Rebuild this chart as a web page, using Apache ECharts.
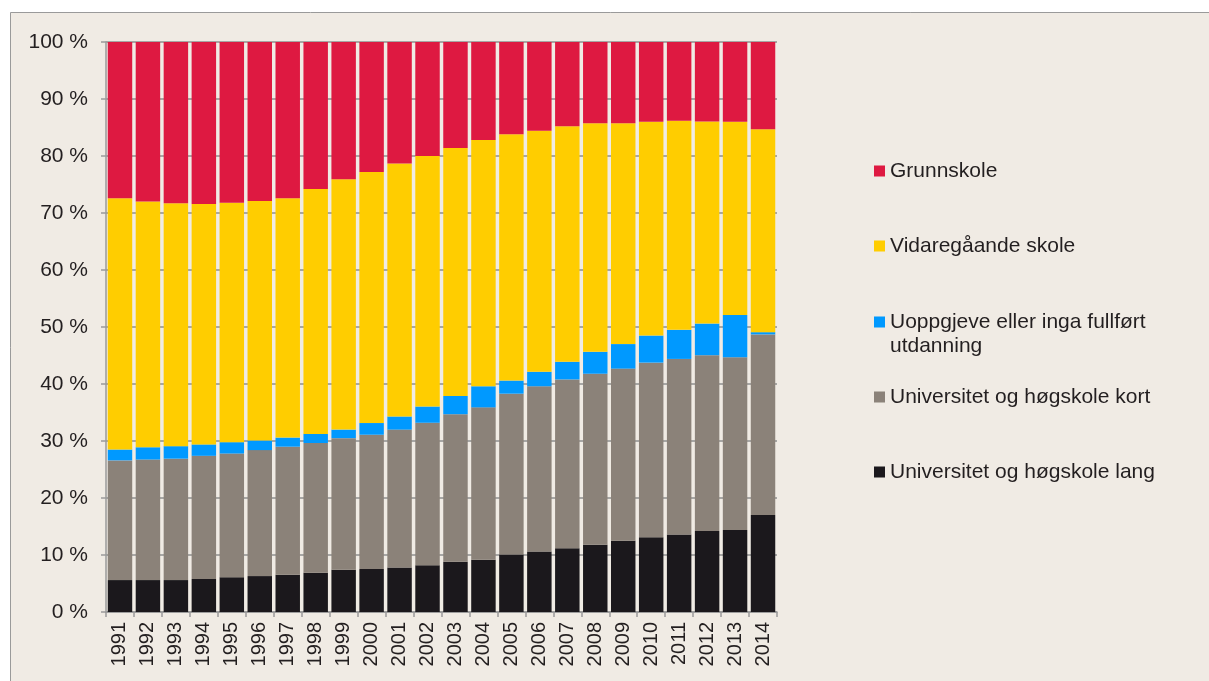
<!DOCTYPE html>
<html>
<head>
<meta charset="utf-8">
<script src="https://cdn.jsdelivr.net/npm/echarts@6/dist/echarts.min.js"></script>
<style>
    html, body { margin: 0; padding: 0; background: #ffffff; }
    #chart { width: 1209px; height: 681px; }
</style>
</head>
<body>
<div id="chart"></div>
<script>
    // data (percent of population)
    var years = ['1991','1992','1993','1994','1995','1996','1997','1998','1999','2000','2001','2002',
                 '2003','2004','2005','2006','2007','2008','2009','2010','2011','2012','2013','2014'];
    var uniLang = [5.6,5.6,5.6,5.8,6.1,6.3,6.55,6.9,7.4,7.55,7.8,8.2,8.8,9.15,10.1,10.6,11.2,11.8,12.5,13.1,13.6,14.2,14.4,17.0];
    var uniKort = [21.0,21.15,21.3,21.6,21.7,22.1,22.45,22.75,23.1,23.55,24.2,25.0,25.9,26.75,28.2,29.0,29.6,30.0,30.2,30.65,30.8,30.85,30.3,31.7];
    var uoppgjeve = [1.9,2.15,2.2,2.0,2.0,1.7,1.6,1.6,1.5,2.05,2.3,2.85,3.2,3.7,2.3,2.55,3.1,3.85,4.3,4.75,5.1,5.55,7.4,0.4];
    var vidaregaande = [44.1,43.1,42.6,42.2,42.0,42.0,42.0,42.95,43.9,44.05,44.4,43.95,43.5,43.2,43.2,42.3,41.3,40.1,38.75,37.5,36.7,35.45,33.9,35.6];
    var grunnskole = [27.4,28.0,28.3,28.4,28.2,27.9,27.4,25.8,24.1,22.8,21.3,20.0,18.6,17.2,16.2,15.55,14.8,14.25,14.25,14.0,13.8,13.95,14.0,15.3];

    var names = ['Grunnskole', 'Vidaregåande skole', 'Uoppgjeve eller inga fullført utdanning',
                 'Universitet og høgskole kort', 'Universitet og høgskole lang'];
    var colors = ['#de1941', '#ffcd00', '#0099ff', '#8b8279', '#1b181c'];
    var legendTops = [159, 234, 310, 385, 460];

    var font = 'Liberation Sans, Arial, sans-serif';
    var textColor = '#231f20';

    function makeSeries(name, data, color) {
        return {
            name: name,
            type: 'bar',
            stack: 'total',
            barCategoryGap: '12.5%',
            data: data,
            itemStyle: { color: color },
            emphasis: { disabled: true }
        };
    }

    var chart = echarts.init(document.getElementById('chart'));
    chart.setOption({
        animation: false,
        backgroundColor: '#ffffff',
        graphic: [
            {
                type: 'rect',
                z: -10,
                shape: { x: 10.5, y: 12.5, width: 1210, height: 680 },
                style: { fill: '#f0ebe4', stroke: '#9a9a9a', lineWidth: 1 }
            },
            {
                type: 'text',
                z: 10,
                style: {
                    text: 'utdanning',
                    x: 890, y: 346,
                    textVerticalAlign: 'middle',
                    font: '21px ' + font,
                    fill: textColor
                }
            }
        ],
        grid: { left: 106, right: 432, top: 42, bottom: 69 },
        legend: names.map(function (n, i) {
            return {
                data: [n],
                left: 874,
                top: legendTops[i],
                padding: 0,
                icon: 'rect',
                itemWidth: 11,
                itemHeight: 11,
                itemGap: 5,
                selectedMode: false,
                formatter: function (name) {
                    return name === names[2] ? 'Uoppgjeve eller inga fullført' : name;
                },
                textStyle: { fontFamily: font, fontSize: 21, color: textColor, lineHeight: 24 }
            };
        }),
        xAxis: {
            type: 'category',
            data: years,
            axisLine: { lineStyle: { color: '#9a9a9a', width: 1.5 } },
            axisTick: { show: true, length: 5, lineStyle: { color: '#9a9a9a', width: 1.5 } },
            axisLabel: { rotate: 90, interval: 0, margin: 10, fontFamily: font, fontSize: 20, color: textColor }
        },
        yAxis: {
            type: 'value',
            min: 0,
            max: 100,
            interval: 10,
            axisLine: { show: true, lineStyle: { color: '#9a9a9a', width: 1.5 } },
            axisTick: { show: true, length: 5, lineStyle: { color: '#9a9a9a', width: 1.5 } },
            splitLine: { lineStyle: { color: '#8f8f8f', width: 1.5 } },
            axisLabel: { formatter: '{value} %', margin: 18, fontFamily: font, fontSize: 21, color: textColor }
        },
        series: [
            makeSeries(names[4], uniLang, colors[4]),
            makeSeries(names[3], uniKort, colors[3]),
            makeSeries(names[2], uoppgjeve, colors[2]),
            makeSeries(names[1], vidaregaande, colors[1]),
            makeSeries(names[0], grunnskole, colors[0])
        ]
    });
</script>
</body>
</html>
